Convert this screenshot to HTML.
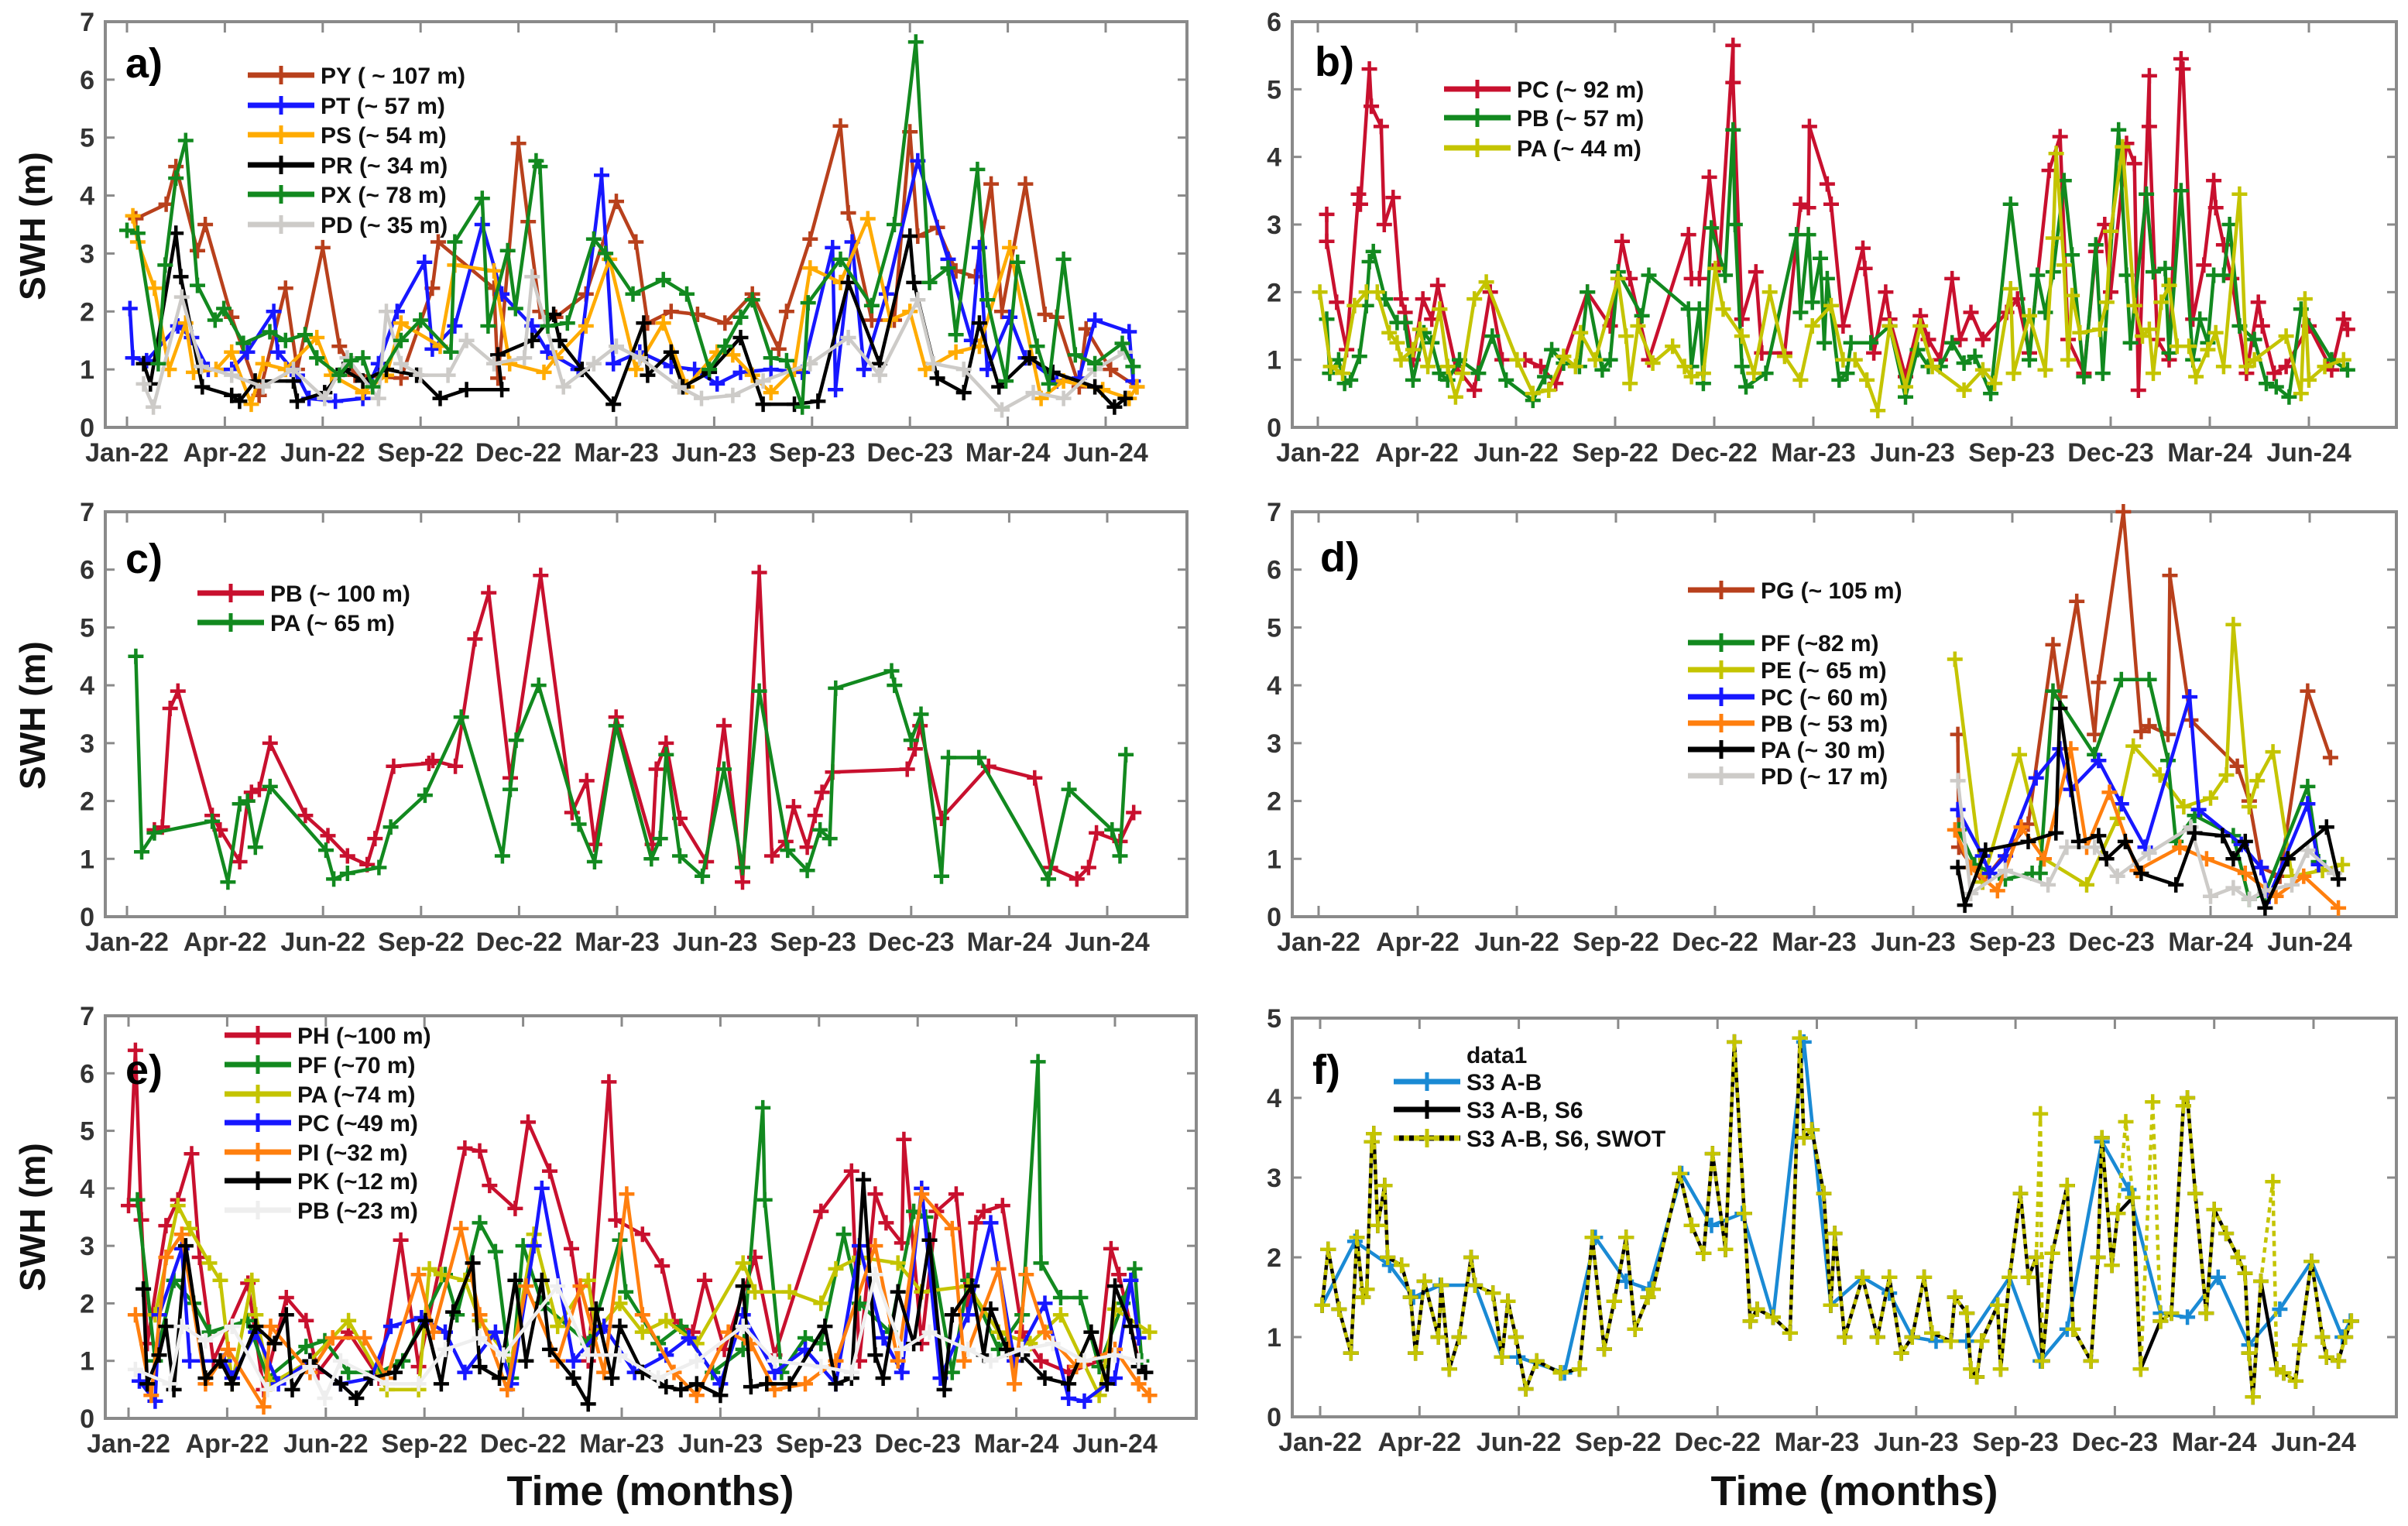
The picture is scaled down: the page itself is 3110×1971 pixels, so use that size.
<!DOCTYPE html>
<html><head><meta charset="utf-8">
<style>
html,body{margin:0;padding:0;background:#fff;}
svg{display:block;}
text{font-family:"Liberation Sans Narrow","Liberation Sans",sans-serif;}
</style></head>
<body>
<svg id="fig" xmlns="http://www.w3.org/2000/svg" width="3110" height="1971" viewBox="0 0 3110 1971">
<rect x="0" y="0" width="3110" height="1971" fill="#fff"/>
<text x="0" y="0" transform="translate(58,292) rotate(-90)" text-anchor="middle" font-size="46" font-weight="bold" style="font-family:'Liberation Sans',sans-serif" fill="#111">SWH (m)</text>
<text x="0" y="0" transform="translate(58,924) rotate(-90)" text-anchor="middle" font-size="46" font-weight="bold" style="font-family:'Liberation Sans',sans-serif" fill="#111">SWH (m)</text>
<text x="0" y="0" transform="translate(58,1572) rotate(-90)" text-anchor="middle" font-size="46" font-weight="bold" style="font-family:'Liberation Sans',sans-serif" fill="#111">SWH (m)</text>
<text x="840" y="1944" text-anchor="middle" font-size="54" font-weight="bold" fill="#111">Time (months)</text>
<text x="2395" y="1944" text-anchor="middle" font-size="54" font-weight="bold" fill="#111">Time (months)</text>
</svg>
<script>
// ---- shared axis categories ----
const monthLabels = ['Jan-22','Apr-22','Jun-22','Sep-22','Dec-22','Mar-23','Jun-23','Sep-23','Dec-23','Mar-24','Jun-24'];

// ---- panel a ----
const aPY_t=[.09,.4,.5,.72,.8,1.07,1.35,1.62,1.74,2.0,2.17,2.33,2.8,3.12,3.18,3.75,3.79,4.0,4.1,4.22,4.38,4.69,5.0,5.2,5.32,5.56,5.83,6.11,6.39,6.66,6.74,6.98,7.29,7.37,7.61,7.84,8.0,8.08,8.28,8.47,8.67,8.83,8.94,9.18,9.38,9.5,9.73,9.8,10.05,10.32];
const aPY_v=[3.6,3.85,4.5,3.05,3.5,1.9,0.55,2.4,1.0,3.1,1.4,0.9,0.85,2.4,3.2,2.4,0.85,4.9,3.55,2.0,1.9,2.3,3.9,3.2,1.8,2.0,1.95,1.8,2.3,1.35,2.0,3.25,5.2,3.7,1.85,1.85,5.1,3.3,3.45,2.7,2.6,4.2,2.0,4.2,1.95,1.9,0.7,1.7,1.0,0.7];
const aPT_t=[.03,.06,.2,.52,.66,.83,1.07,1.23,1.5,1.54,1.74,1.86,2.13,2.41,2.57,2.76,3.04,3.12,3.35,3.63,3.83,4.14,4.3,4.61,4.85,4.97,5.24,5.56,5.8,6.03,6.27,6.58,6.9,7.21,7.24,7.41,7.53,7.76,8.08,8.39,8.63,8.71,8.79,9.02,9.18,9.5,9.73,9.89,10.24,10.28];
const aPT_v=[2.05,1.2,1.15,1.75,1.55,1.0,1.0,1.3,2.0,1.3,0.9,0.5,0.45,0.5,1.1,2.0,2.85,1.35,1.75,3.5,2.3,1.75,1.3,1.0,4.35,1.1,1.3,1.05,1.0,0.75,0.95,1.0,0.95,3.1,0.65,3.2,1.0,2.3,4.6,2.9,1.5,3.1,1.0,1.9,1.2,0.8,0.85,1.85,1.65,0.8];
const aPS_t=[.06,.11,.28,.43,.6,.68,.91,1.07,1.27,1.39,1.62,1.94,2.09,2.41,2.65,2.8,3.2,3.35,3.75,3.91,4.26,4.38,4.69,4.93,5.2,5.48,5.72,6.03,6.19,6.39,6.58,6.82,6.98,7.29,7.57,7.8,8.0,8.16,8.47,8.71,9.02,9.34,9.57,9.97,10.24,10.32];
const aPS_v=[3.65,3.2,2.4,1.0,1.8,0.95,1.0,1.3,0.4,1.1,1.0,1.55,0.9,0.6,0.9,1.8,1.4,2.8,2.7,1.1,0.95,1.2,1.75,2.9,1.0,1.8,0.7,1.3,1.25,0.9,0.6,1.0,2.75,2.5,3.6,1.85,2.0,1.0,1.3,1.4,3.1,0.5,0.8,0.65,0.5,0.7];
const aPR_t=[.17,.24,.5,.55,.77,1.07,1.15,1.31,1.7,1.74,2.02,2.21,2.41,2.65,2.96,3.2,3.47,3.83,3.79,4.14,4.36,4.42,4.65,4.97,5.28,5.32,5.56,5.68,5.95,6.27,6.5,6.82,7.06,7.37,7.69,8.0,8.04,8.28,8.55,8.71,8.91,9.22,9.46,9.89,10.09,10.2];
const aPR_v=[1.1,0.75,3.35,2.6,0.7,0.55,0.45,0.8,0.8,0.45,0.6,1.0,0.8,1.0,0.9,0.5,0.65,0.65,1.25,1.5,1.95,1.5,1.0,0.4,1.8,0.9,1.3,0.7,0.95,1.55,0.4,0.4,0.45,2.5,1.1,3.3,2.5,0.85,0.6,1.8,0.7,1.2,0.95,0.7,0.35,0.5];
const aPX_t=[0,.11,.32,.39,.5,.6,.72,.9,.99,1.19,1.46,1.62,1.82,1.94,2.17,2.29,2.41,2.51,2.8,3.0,3.31,3.35,3.63,3.69,3.89,3.97,4.18,4.22,4.3,4.5,4.77,4.89,5.17,5.48,5.72,5.95,6.11,6.27,6.39,6.58,6.74,6.9,6.96,7.29,7.61,7.84,8.06,8.2,8.39,8.47,8.69,8.79,8.98,9.1,9.3,9.42,9.57,9.69,9.89,10.17,10.28];
const aPX_v=[3.4,3.35,1.1,2.8,4.3,4.95,2.45,1.85,2.05,1.45,1.65,1.5,1.6,1.2,0.9,1.15,1.2,0.7,1.5,1.85,1.3,3.2,3.95,1.75,3.05,2.05,4.6,4.5,1.75,1.8,3.25,3.0,2.3,2.55,2.3,1.0,1.4,1.9,2.2,1.2,1.15,0.35,2.15,2.9,2.1,3.5,6.65,2.5,2.75,1.6,4.45,2.2,0.8,2.85,1.4,0.75,2.9,1.25,1.1,1.45,1.05];
const aPD_t=[.17,.27,.56,.76,1.07,1.39,1.7,2.02,2.25,2.57,2.65,2.8,3.0,3.28,3.47,3.75,4.06,4.14,4.46,4.77,5.0,5.24,5.64,5.87,6.19,6.5,6.98,7.37,7.69,8.08,8.24,8.55,8.94,9.26,9.57,9.89,10.2];
const aPD_v=[0.75,0.35,2.25,1.05,0.9,0.7,1.0,0.5,1.2,0.5,2.0,1.1,0.9,0.9,1.5,1.1,1.2,2.6,0.7,1.1,1.4,1.2,0.7,0.5,0.55,0.8,1.1,1.55,0.9,2.2,1.1,1.0,0.3,0.6,0.5,1.0,1.3];

// ---- panel b ----
const bPC_t=[.09,.09,.19,.29,.41,.43,.52,.54,.64,.67,.76,.84,.88,.96,1.06,1.15,1.21,1.39,1.58,1.74,1.86,2.09,2.25,2.4,2.72,2.95,3.07,3.15,3.34,3.74,3.77,3.85,3.95,4.05,4.19,4.19,4.28,4.42,4.48,4.71,4.87,4.95,4.96,5.14,5.18,5.3,5.5,5.52,5.61,5.73,5.77,5.93,6.08,6.16,6.28,6.4,6.48,6.59,6.71,6.95,7.06,7.18,7.38,7.49,7.57,7.73,7.85,7.94,8.0,8.16,8.24,8.28,8.39,8.39,8.47,8.59,8.71,8.73,8.83,8.94,9.04,9.06,9.14,9.22,9.37,9.49,9.53,9.65,9.77,10.0,10.23,10.35,10.39];
const bPC_v=[3.15,2.75,1.85,1.15,3.45,3.3,5.3,4.75,4.45,3.0,3.4,1.9,1.7,1.0,1.9,1.6,2.1,0.9,0.55,2.0,1.0,1.0,0.9,0.65,2.0,1.5,2.75,2.2,1.0,2.85,2.2,2.2,3.7,2.4,5.65,5.1,1.6,2.3,1.1,1.1,3.3,3.25,4.45,3.6,3.3,1.5,2.65,2.35,1.1,2.0,1.6,0.75,1.65,1.3,1.0,2.2,1.3,1.7,1.3,1.7,1.9,1.1,3.8,4.3,1.3,0.8,2.6,3.0,2.0,4.2,3.9,0.55,5.2,4.45,1.3,1.0,5.45,5.3,1.6,2.4,3.65,3.25,2.7,2.2,0.8,1.85,1.5,0.8,0.9,1.5,0.85,1.6,1.45];
const bPB_t=[.09,.12,.21,.27,.33,.42,.49,.52,.56,.68,.8,.88,.96,1.07,1.15,1.23,1.31,1.43,1.62,1.76,1.9,2.17,2.29,2.36,2.48,2.64,2.72,2.87,2.95,3.03,3.27,3.34,3.74,3.77,3.85,3.89,3.97,4.11,4.19,4.21,4.28,4.32,4.52,4.83,4.87,4.95,4.99,5.07,5.11,5.14,5.26,5.34,5.38,5.58,5.77,5.93,6.05,6.16,6.28,6.4,6.52,6.63,6.79,6.99,7.18,7.26,7.34,7.42,7.53,7.61,7.73,7.85,7.92,8.08,8.16,8.2,8.36,8.43,8.55,8.59,8.71,8.83,8.9,8.98,9.04,9.14,9.2,9.3,9.45,9.57,9.67,9.8,9.92,10.23,10.39];
const bPB_v=[1.6,0.8,1.0,0.65,0.7,1.05,1.8,2.45,2.6,1.9,1.55,1.55,0.7,1.4,1.25,0.8,0.7,1.0,0.8,1.35,0.7,0.4,0.75,1.15,0.95,0.9,2.0,0.85,1.0,2.3,1.65,2.25,1.75,0.9,1.75,0.65,2.95,2.25,4.4,3.0,0.9,0.6,0.8,2.85,1.7,2.85,1.85,2.5,1.25,2.2,0.7,0.8,1.25,1.25,1.5,0.45,1.15,0.9,0.9,1.25,0.95,1.05,0.5,3.3,1.0,2.25,1.7,2.3,3.65,2.55,0.75,2.7,0.8,4.4,2.25,1.25,3.45,2.3,2.35,1.1,3.5,1.0,1.6,1.25,2.25,2.25,3.0,1.5,1.3,0.65,0.6,0.45,1.75,1.0,0.85];
const bPA_t=[.02,.13,.25,.37,.49,.6,.72,.8,.84,.96,1.03,1.11,1.23,1.31,1.39,1.46,1.58,1.7,2.01,2.17,2.33,2.48,2.6,2.65,2.8,3.03,3.11,3.15,3.23,3.38,3.58,3.7,3.77,3.89,4.01,4.09,4.28,4.4,4.56,4.71,4.87,4.99,5.18,5.3,5.42,5.54,5.65,5.77,5.93,6.08,6.2,6.52,6.71,6.83,6.99,7.02,7.18,7.34,7.42,7.45,7.53,7.57,7.61,7.69,7.89,7.96,8.0,8.12,8.24,8.32,8.39,8.43,8.51,8.59,8.67,8.79,8.86,8.98,9.06,9.14,9.3,9.37,9.45,9.77,9.92,9.96,10.0,10.16,10.35];
const bPA_v=[2.0,0.9,0.8,1.8,2.0,2.0,1.4,1.25,1.0,1.15,1.45,0.9,1.75,0.9,0.45,0.8,1.9,2.15,1.0,0.5,0.55,1.05,0.9,1.4,1.0,2.2,1.35,0.65,1.5,0.95,1.2,0.9,0.75,0.8,2.35,1.75,1.35,0.8,2.0,1.05,0.7,1.5,1.8,1.0,1.0,0.7,0.25,1.5,0.6,1.5,0.9,0.55,0.85,0.65,2.05,0.8,1.65,0.85,2.8,4.05,2.4,1.0,1.95,1.4,1.45,1.85,2.9,4.15,1.8,1.35,1.45,0.8,1.85,2.1,1.2,1.2,0.75,1.15,1.4,0.9,3.45,0.9,1.0,1.35,0.5,1.9,0.7,0.9,1.0];

// ---- panel c ----
const cPB_t=[.28,.36,.44,.52,.87,.95,1.15,1.23,1.27,1.35,1.46,1.82,2.05,2.25,2.45,2.53,2.72,3.08,3.12,3.35,3.55,3.69,3.91,4.22,4.54,4.69,4.77,4.99,5.36,5.4,5.5,5.64,5.91,6.09,6.28,6.45,6.58,6.72,6.8,6.94,7.02,7.09,7.2,7.96,8.04,8.09,8.31,8.79,9.26,9.42,9.69,9.81,9.89,10.13,10.27];
const cPB_v=[1.5,1.55,3.6,3.9,1.75,1.5,0.95,2.0,2.15,2.2,3.0,1.75,1.4,1.05,0.9,1.35,2.6,2.65,2.7,2.6,4.8,5.6,2.4,5.9,1.8,2.35,1.25,3.45,1.25,2.55,3.0,1.7,0.95,3.3,0.6,5.95,1.05,1.3,1.9,1.2,1.75,2.15,2.5,2.55,2.9,3.3,1.7,2.6,2.4,0.85,0.65,0.85,1.45,1.3,1.8];
const cPA_t=[.09,.15,.28,.87,1.03,1.15,1.23,1.31,1.46,2.03,2.11,2.25,2.57,2.69,3.04,3.41,3.83,3.91,3.97,4.2,4.61,4.77,4.99,5.35,5.44,5.5,5.64,5.87,6.09,6.28,6.45,6.74,6.94,7.07,7.17,7.23,7.8,7.83,8.0,8.1,8.31,8.38,8.69,9.4,9.61,10.05,10.13,10.19];
const cPA_v=[4.5,1.12,1.45,1.65,0.6,1.95,2.0,1.2,2.25,1.15,0.65,0.75,0.85,1.55,2.1,3.45,1.05,2.2,3.05,4.0,1.6,0.95,3.3,1.0,1.35,2.8,1.05,0.7,2.55,0.85,3.9,1.15,0.8,1.5,1.35,3.95,4.25,4.0,3.05,3.5,0.7,2.75,2.75,0.65,2.2,1.5,1.05,2.8];

// ---- panel d ----
const dPG_t=[6.45,6.46,6.7,7.16,7.41,7.48,7.65,7.83,7.87,8.12,8.3,8.38,8.57,8.59,8.8,9.27,9.39,9.51,9.7,9.98,10.21];
const dPG_v=[3.15,1.2,0.6,1.6,4.7,3.8,5.45,3.15,4.05,7.0,3.2,3.3,3.15,5.9,3.4,2.6,2.0,0.85,0.7,3.9,2.75];
const dPF_t=[6.46,6.62,6.93,7.2,7.28,7.41,7.83,8.1,8.38,8.57,8.65,8.84,9.23,9.39,9.55,9.98,10.09];
const dPF_v=[1.5,0.9,0.65,0.75,0.75,3.9,2.8,4.1,4.1,2.7,1.3,1.75,1.4,0.3,0.4,2.25,0.95];
const dPE_t=[6.42,6.7,7.07,7.32,7.75,8.06,8.22,8.49,8.73,9.0,9.16,9.23,9.39,9.47,9.63,9.82,10.13,10.33];
const dPE_v=[4.45,0.6,2.8,1.0,0.55,1.7,2.95,2.45,1.9,2.05,2.45,5.05,1.9,2.35,2.85,0.7,0.8,0.9];
const dPC_t=[6.45,6.7,6.77,6.93,7.24,7.48,7.59,7.87,8.1,8.34,8.79,8.88,9.31,9.51,9.59,9.98,10.09];
const dPC_v=[1.85,1.05,0.75,1.05,2.4,2.9,2.2,2.7,1.95,1.2,3.8,1.85,1.25,0.85,0.35,1.95,0.9];
const dPB_t=[6.42,6.58,6.85,7.09,7.32,7.59,7.75,7.98,8.26,8.69,8.96,9.35,9.66,9.94,10.29];
const dPB_v=[1.5,0.85,0.45,1.55,1.0,2.9,1.2,2.15,0.8,1.2,1.0,0.75,0.35,0.7,0.15];
const dPA_t=[6.45,6.52,6.73,7.16,7.44,7.48,7.67,7.87,7.95,8.14,8.3,8.65,8.84,9.12,9.23,9.35,9.55,9.78,10.17,10.29];
const dPA_v=[0.85,0.2,1.15,1.3,1.45,3.6,1.3,1.4,1.0,1.3,0.75,0.55,1.45,1.4,1.0,1.3,0.15,1.0,1.55,0.65];
const dPD_t=[6.45,6.58,6.93,7.36,7.55,7.83,8.06,8.38,8.8,9.0,9.23,9.39,9.55,9.82,9.98,10.25];
const dPD_v=[2.35,0.4,0.8,0.55,1.2,1.2,0.7,1.1,1.55,0.35,0.5,0.3,0.45,0.55,1.15,0.75];

// ---- panel e ----
const ePH_t=[0,.07,.13,.19,.38,.5,.64,.72,.86,1.21,1.37,1.6,1.8,1.92,2.23,2.54,2.76,2.94,3.41,3.56,3.66,3.92,4.05,4.27,4.49,4.66,4.87,4.94,5.21,5.41,5.53,5.72,5.84,6.04,6.35,6.55,7.02,7.33,7.41,7.57,7.68,7.84,7.86,8.04,8.19,8.39,8.51,8.59,8.67,8.86,9.06,9.25,9.53,9.84,9.96,10.04,10.24];
const ePH_v=[3.7,6.4,3.45,1.3,3.35,3.8,4.6,2.8,1.0,2.35,0.5,2.1,1.7,0.8,1.5,0.7,3.1,0.9,4.7,4.65,4.05,3.65,5.15,4.3,2.95,1.0,5.85,3.45,3.2,2.65,1.7,1.5,2.4,1.2,2.8,1.1,3.6,4.3,1.0,3.9,3.4,3.05,4.85,1.3,3.6,3.9,1.8,3.4,3.6,3.7,1.5,1.0,0.8,1.0,2.95,2.5,1.0];
const ePF_t=[.09,.27,.46,.66,.82,1.21,1.41,1.8,1.99,2.23,2.54,2.78,3.21,3.33,3.56,3.72,3.88,4.0,4.19,4.66,4.98,5.04,5.37,5.6,5.92,6.23,6.43,6.45,6.62,6.86,7.02,7.25,7.41,7.72,7.96,8.08,8.35,8.51,8.82,9.06,9.22,9.25,9.45,9.65,9.84,10.08,10.2,10.27];
const ePF_v=[3.8,1.0,2.4,2.0,1.5,1.7,0.7,1.25,1.35,0.8,0.8,1.0,2.5,1.8,3.4,2.9,0.7,3.0,2.0,1.3,3.1,2.2,1.3,1.6,0.8,1.2,5.4,3.8,0.8,1.4,1.3,3.2,2.0,1.5,3.6,3.5,0.8,2.4,1.2,1.8,6.2,2.7,2.1,2.1,0.9,2.0,2.6,1.0];
const ePA_t=[.27,.5,.62,.82,.93,1.05,1.25,1.29,1.44,1.84,2.23,2.62,2.94,3.05,3.17,3.41,3.56,3.88,4.11,4.35,4.66,4.74,4.98,5.21,5.45,5.76,6.23,6.35,6.7,7.02,7.17,7.41,7.8,8.04,8.51,8.82,9.14,9.45,9.84,10.0,10.35];
const ePA_v=[1.8,3.7,3.3,2.7,2.4,0.6,2.4,1.8,0.6,1.0,1.7,0.5,0.5,2.6,2.5,2.4,1.7,1.0,3.2,1.6,2.4,1.5,2.0,1.5,1.7,1.3,2.7,2.2,2.2,2.0,2.6,2.8,2.7,2.2,2.3,1.5,1.3,1.8,0.4,1.9,1.5];
const ePC_t=[.11,.27,.31,.54,.62,.97,1.05,1.29,1.52,1.84,2.15,2.46,2.66,2.97,3.21,3.41,3.72,3.88,4.11,4.19,4.51,4.82,5.13,5.45,5.68,6.0,6.23,6.55,6.86,7.17,7.41,7.65,7.84,8.04,8.23,8.51,8.74,8.98,9.29,9.53,9.69,10.0,10.16,10.24];
const ePC_v=[0.65,0.3,1.8,2.95,1.0,1.0,0.7,1.5,0.6,1.0,0.6,0.7,1.6,1.75,1.5,0.8,1.5,0.6,3.0,4.0,1.0,1.6,0.8,1.1,1.4,0.6,1.8,0.8,1.2,0.6,3.0,1.4,0.8,4.0,0.7,1.8,3.4,1.0,2.0,0.35,0.3,0.7,2.4,1.4];
const ePI_t=[.07,.23,.38,.54,.78,1.01,1.37,1.44,1.84,2.07,2.39,2.62,2.94,3.09,3.37,3.56,3.84,4.03,4.35,4.58,4.82,5.05,5.21,5.53,5.76,6.08,6.31,6.55,6.86,7.17,7.57,7.8,8.04,8.35,8.47,8.82,8.98,9.1,9.29,9.61,10.0,10.24,10.35];
const ePI_v=[1.8,0.4,2.8,3.2,0.6,1.2,0.2,1.6,0.8,1.4,1.4,0.7,2.5,1.5,3.3,1.8,0.5,2.3,1.0,2.3,0.8,3.9,1.8,0.8,0.4,1.5,1.3,0.5,0.6,1.0,3.0,1.0,3.9,3.3,1.0,2.6,0.6,2.5,1.5,0.9,1.2,0.6,0.4];
const ePK_t=[.15,.19,.31,.38,.46,.58,.78,.93,1.05,1.29,1.48,1.6,1.66,1.84,2.15,2.31,2.46,2.7,3.01,3.17,3.29,3.49,3.56,3.76,3.92,4.03,4.19,4.27,4.51,4.66,4.74,4.9,4.98,5.21,5.45,5.6,5.76,6.0,6.23,6.31,6.47,6.7,7.06,7.17,7.33,7.45,7.57,7.65,7.8,7.96,8.12,8.27,8.35,8.55,8.67,8.74,8.9,9.06,9.29,9.53,9.76,9.92,10.0,10.16,10.24,10.31];
const ePK_v=[2.25,0.6,1.1,1.6,0.5,3.0,0.7,1.0,0.6,1.6,1.3,1.8,0.5,1.0,0.6,0.35,0.7,0.8,1.7,0.6,1.85,2.7,0.9,0.7,2.4,1.0,2.4,1.2,0.7,0.25,1.9,0.7,1.6,0.8,0.55,0.5,0.6,0.4,2.3,0.55,0.6,0.6,1.6,0.6,0.7,4.15,1.1,0.7,2.2,1.3,3.1,0.5,1.8,2.3,1.1,1.9,1.2,1.1,0.7,0.6,1.5,0.6,2.3,1.6,0.9,0.8];
const ePB_t=[.07,.42,.54,.78,1.05,1.41,1.84,1.99,2.15,2.62,2.94,3.21,3.56,3.8,4.35,4.66,4.98,5.37,5.76,6.23,6.55,7.02,7.33,7.57,7.84,8.12,8.51,8.74,9.06,9.37,9.69,10.0,10.24];
const ePB_v=[0.85,0.6,1.6,1.35,1.6,0.5,0.9,0.35,1.0,0.6,0.6,1.2,1.4,1.1,2.3,1.1,1.1,0.7,1.0,1.6,1.0,0.9,0.8,2.5,1.2,1.5,1.2,1.0,1.2,1.3,1.0,1.1,1.0];

// ---- panel f ----
const fS3_t=[.02,.35,.7,.94,1.21,1.56,1.83,1.99,2.46,2.77,3.08,3.31,3.64,3.94,4.25,4.56,4.87,5.14,5.46,5.73,5.96,6.2,6.51,6.94,7.25,7.52,7.87,8.14,8.46,8.73,9.04,9.35,9.66,9.98,10.29,10.37];
const fS3_v=[1.4,2.2,1.9,1.5,1.65,1.65,0.75,0.75,0.55,2.25,1.7,1.6,3.05,2.4,2.55,1.25,4.7,1.4,1.75,1.55,1.0,0.95,0.95,1.75,0.7,1.1,3.45,2.85,1.3,1.25,1.75,0.9,1.35,1.95,1.0,1.2];
const fSWOT_t=[.02,.08,.19,.31,.37,.43,.47,.52,.54,.58,.65,.68,.82,.91,.96,1.05,1.19,1.22,1.3,1.4,1.52,1.56,1.74,1.83,1.89,1.97,2.07,2.18,2.42,2.61,2.74,2.86,2.96,3.08,3.17,3.3,3.35,3.62,3.74,3.86,3.95,4.08,4.17,4.27,4.33,4.4,4.56,4.73,4.83,4.87,4.95,5.07,5.14,5.18,5.28,5.46,5.61,5.73,5.85,5.96,6.08,6.16,6.35,6.39,6.51,6.55,6.61,6.66,6.82,6.85,6.94,7.05,7.13,7.21,7.25,7.27,7.37,7.52,7.58,7.76,7.83,7.87,7.97,8.03,8.11,8.18,8.26,8.38,8.46,8.57,8.69,8.73,8.81,8.92,9.0,9.12,9.24,9.31,9.35,9.39,9.47,9.59,9.63,9.7,9.82,9.86,9.98,10.09,10.13,10.25,10.32,10.38];
const fSWOT_v=[1.4,2.1,1.35,0.8,2.25,1.5,1.6,3.45,3.55,2.4,2.9,2.0,1.9,1.5,0.8,1.7,1.0,1.65,0.6,1.0,2.0,1.65,1.55,0.75,1.45,1.0,0.35,0.7,0.55,0.6,2.25,0.85,1.45,2.25,1.1,1.5,1.6,3.05,2.4,2.05,3.3,2.1,4.7,2.55,1.2,1.35,1.25,1.05,4.75,3.5,3.6,2.8,1.4,2.3,1.0,1.75,1.0,1.75,0.8,1.0,1.75,1.05,0.95,1.5,1.3,0.6,0.5,0.95,1.4,0.6,1.75,2.8,1.75,2.0,3.8,0.7,2.05,2.9,1.1,0.7,2.0,3.5,1.9,2.55,3.7,2.75,0.6,3.95,1.2,1.3,3.9,4.0,2.8,1.3,2.6,2.3,2.0,1.8,0.8,0.25,1.7,2.95,0.6,0.55,0.45,0.9,1.95,1.0,0.75,0.7,1.0,1.2];
// indices of SWOT-only samples, absent from the S3 A-B, S6 series
const fS6_omit=[74,84,87,101];

const NS='http://www.w3.org/2000/svg';
const svg=document.getElementById('fig');
function mk(tag,attrs,parent){const e=document.createElementNS(NS,tag);for(const k in attrs)e.setAttribute(k,attrs[k]);(parent||svg).appendChild(e);return e;}

function drawPanel(p){
  const g=mk('g',{});
  
  
  const X=t=>p.x0+t*p.step;
  const Y=v=>p.B-(v/p.ymax)*(p.B-p.T);
  const fr=mk('rect',{x:p.L,y:p.T,width:p.R-p.L,height:p.B-p.T,fill:'none',stroke:'#8a8a8a','stroke-width':4},g);
  
  
  monthLabels.forEach((lab,i)=>{
    const x=X(i);
    mk('line',{x1:x,y1:p.B,x2:x,y2:p.B-14,stroke:'#8a8a8a','stroke-width':3},g);
    mk('line',{x1:x,y1:p.T,x2:x,y2:p.T+14,stroke:'#8a8a8a','stroke-width':3},g);
    const t=mk('text',{x:x,y:p.B+44,'text-anchor':'middle','font-size':34,'font-weight':'bold',fill:'#333'},g);
    t.textContent=lab;
    
    
  });
  for(let v=0;v<=p.ymax;v++){
    const y=Y(v);
    mk('line',{x1:p.L,y1:y,x2:p.L+12,y2:y,stroke:'#8a8a8a','stroke-width':3},g);
    mk('line',{x1:p.R,y1:y,x2:p.R-12,y2:y,stroke:'#8a8a8a','stroke-width':3},g);
    const t=mk('text',{x:p.L-14,y:y+12,'text-anchor':'end','font-size':34,'font-weight':'bold',fill:'#333'},g);
    t.textContent=String(v);
    
    
  }
  p.series.forEach(s=>{
    const n=Math.min(s.t.length,s.v.length);
    let d='';
    for(let i=0;i<n;i++){d+=(i?'L':'M')+X(s.t[i]).toFixed(1)+','+Y(s.v[i]).toFixed(1);}
    const sg=mk('g',{},g);
    
    
    const ln=mk('path',{d:d,fill:'none',stroke:s.color,'stroke-width':s.w||4.5,'stroke-linejoin':'round'},sg);
    if(s.dash) ln.setAttribute('stroke-dasharray',s.dash);
    
    
    let md='';
    const m=s.m||10;
    for(let i=0;i<n;i++){const x=X(s.t[i]),y=Y(s.v[i]);md+='M'+(x-m).toFixed(1)+','+y.toFixed(1)+'h'+(2*m)+'M'+x.toFixed(1)+','+(y-m).toFixed(1)+'v'+(2*m);}
    const mp=mk('path',{d:md,fill:'none',stroke:s.mcolor||s.color,'stroke-width':4.5},sg);
    
    
  });
  const pl=mk('text',{x:p.lab[0],y:p.lab[1],'font-size':54,'font-weight':'bold',fill:'#000'},g);
  pl.textContent=p.id+')';
  
  
  p.legend.forEach((e,i)=>{
    const y=e.y;
    const lg=mk('g',{},g);
    
    
    if(e.color){
      if(e.under) mk('line',{x1:p.lx,y1:y,x2:p.lx+86,y2:y,stroke:e.under,'stroke-width':7},lg);
      const l=mk('line',{x1:p.lx,y1:y,x2:p.lx+86,y2:y,stroke:e.color,'stroke-width':7},lg);
      if(e.dash) l.setAttribute('stroke-dasharray',e.dash);
      mk('path',{d:'M'+(p.lx+33)+','+y+'h20M'+(p.lx+43)+','+(y-12)+'v24',stroke:e.color,'stroke-width':5,fill:'none'},lg);
    }
    const t=mk('text',{x:p.lx+94,y:y+11,'font-size':30,'font-weight':'bold',fill:'#111'},lg);
    t.textContent=e.text;
  });
}

const C={brown:'#b8401c',blue:'#1717ff',orange:'#ffab00',black:'#000',green:'#12891f',gray:'#cdcbc8',red:'#c8102e',yellow:'#c4c400',orange2:'#ff7f0e',white:'#eeeeee',sky:'#1a8ad4'};

drawPanel({id:'a',L:136,R:1533,T:28,B:552,ymax:7,x0:164,step:126.4,lab:[162,100],lx:320,
 series:[
  {name:'PY',t:aPY_t,v:aPY_v,color:C.brown},
  {name:'PT',t:aPT_t,v:aPT_v,color:C.blue},
  {name:'PS',t:aPS_t,v:aPS_v,color:C.orange},
  {name:'PR',t:aPR_t,v:aPR_v,color:C.black},
  {name:'PD',t:aPD_t,v:aPD_v,color:C.gray},
  {name:'PX',t:aPX_t,v:aPX_v,color:C.green}],
 legend:[{y:97,color:C.brown,text:'PY ( ~ 107 m)'},{y:136,color:C.blue,text:'PT (~ 57 m)'},{y:174,color:C.orange,text:'PS (~ 54 m)'},{y:213,color:C.black,text:'PR (~ 34 m)'},{y:251,color:C.green,text:'PX (~ 78 m)'},{y:290,color:C.gray,text:'PD (~ 35 m)'}]});

drawPanel({id:'b',L:1669,R:3095,T:28,B:552,ymax:6,x0:1702,step:128,lab:[1698,98],lx:1865,
 series:[
  {name:'PC',t:bPC_t,v:bPC_v,color:C.red},
  {name:'PB',t:bPB_t,v:bPB_v,color:C.green},
  {name:'PA',t:bPA_t,v:bPA_v,color:C.yellow}],
 legend:[{y:115,color:C.red,text:'PC (~ 92 m)'},{y:152,color:C.green,text:'PB (~ 57 m)'},{y:191,color:C.yellow,text:'PA (~ 44 m)'}]});

drawPanel({id:'c',L:136,R:1533,T:661,B:1184,ymax:7,x0:164,step:126.6,lab:[162,740],lx:255,
 series:[
  {name:'PB',t:cPB_t,v:cPB_v,color:C.red},
  {name:'PA',t:cPA_t,v:cPA_v,color:C.green}],
 legend:[{y:766,color:C.red,text:'PB (~ 100 m)'},{y:804,color:C.green,text:'PA (~ 65 m)'}]});

drawPanel({id:'d',L:1669,R:3095,T:661,B:1184,ymax:7,x0:1703,step:128,lab:[1705,738],lx:2180,
 series:[
  {name:'PG',t:dPG_t,v:dPG_v,color:C.brown},
  {name:'PE',t:dPE_t,v:dPE_v,color:C.yellow},
  {name:'PF',t:dPF_t,v:dPF_v,color:C.green},
  {name:'PC',t:dPC_t,v:dPC_v,color:C.blue},
  {name:'PB',t:dPB_t,v:dPB_v,color:C.orange2},
  {name:'PD',t:dPD_t,v:dPD_v,color:C.gray},
  {name:'PA',t:dPA_t,v:dPA_v,color:C.black}],
 legend:[{y:762,color:C.brown,text:'PG (~ 105 m)'},{y:830,color:C.green,text:'PF (~82 m)'},{y:865,color:C.yellow,text:'PE (~ 65 m)'},{y:900,color:C.blue,text:'PC (~ 60 m)'},{y:934,color:C.orange2,text:'PB (~ 53 m)'},{y:968,color:C.black,text:'PA (~ 30 m)'},{y:1002,color:C.gray,text:'PD (~ 17 m)'}]});

drawPanel({id:'e',L:136,R:1545,T:1312,B:1832,ymax:7,x0:166,step:127.4,lab:[162,1400],lx:290,
 series:[
  {name:'PH',t:ePH_t,v:ePH_v,color:C.red},
  {name:'PF',t:ePF_t,v:ePF_v,color:C.green},
  {name:'PA',t:ePA_t,v:ePA_v,color:C.yellow},
  {name:'PC',t:ePC_t,v:ePC_v,color:C.blue},
  {name:'PI',t:ePI_t,v:ePI_v,color:C.orange2},
  {name:'PK',t:ePK_t,v:ePK_v,color:C.black},
  {name:'PB',t:ePB_t,v:ePB_v,color:C.white}],
 legend:[{y:1337,color:C.red,text:'PH (~100 m)'},{y:1375,color:C.green,text:'PF (~70 m)'},{y:1413,color:C.yellow,text:'PA (~74 m)'},{y:1450,color:C.blue,text:'PC (~49 m)'},{y:1488,color:C.orange2,text:'PI (~32 m)'},{y:1525,color:C.black,text:'PK (~12 m)'},{y:1563,color:C.white,text:'PB (~23 m)'}]});

const fS6_t=fSWOT_t.filter((_,i)=>!fS6_omit.includes(i));
const fS6_v=fSWOT_v.filter((_,i)=>!fS6_omit.includes(i));
drawPanel({id:'f',L:1669,R:3095,T:1315,B:1830,ymax:5,x0:1705,step:128.3,lab:[1695,1400],lx:1800,
 series:[
  {name:'S3-A-B',t:fS3_t,v:fS3_v,color:C.sky,mcolor:C.sky},
  {name:'S3-A-B-S6',t:fS6_t,v:fS6_v,color:C.black},
  {name:'S3-A-B-S6-SWOT',t:fSWOT_t,v:fSWOT_v,color:C.yellow,dash:'7 6'}],
 legend:[{y:1362,text:'data1'},{y:1397,color:C.sky,text:'S3 A-B'},{y:1433,color:C.black,text:'S3 A-B, S6'},{y:1470,color:C.yellow,under:'#000',dash:'7 6',text:'S3 A-B, S6, SWOT'}]});
</script>
</body></html>
